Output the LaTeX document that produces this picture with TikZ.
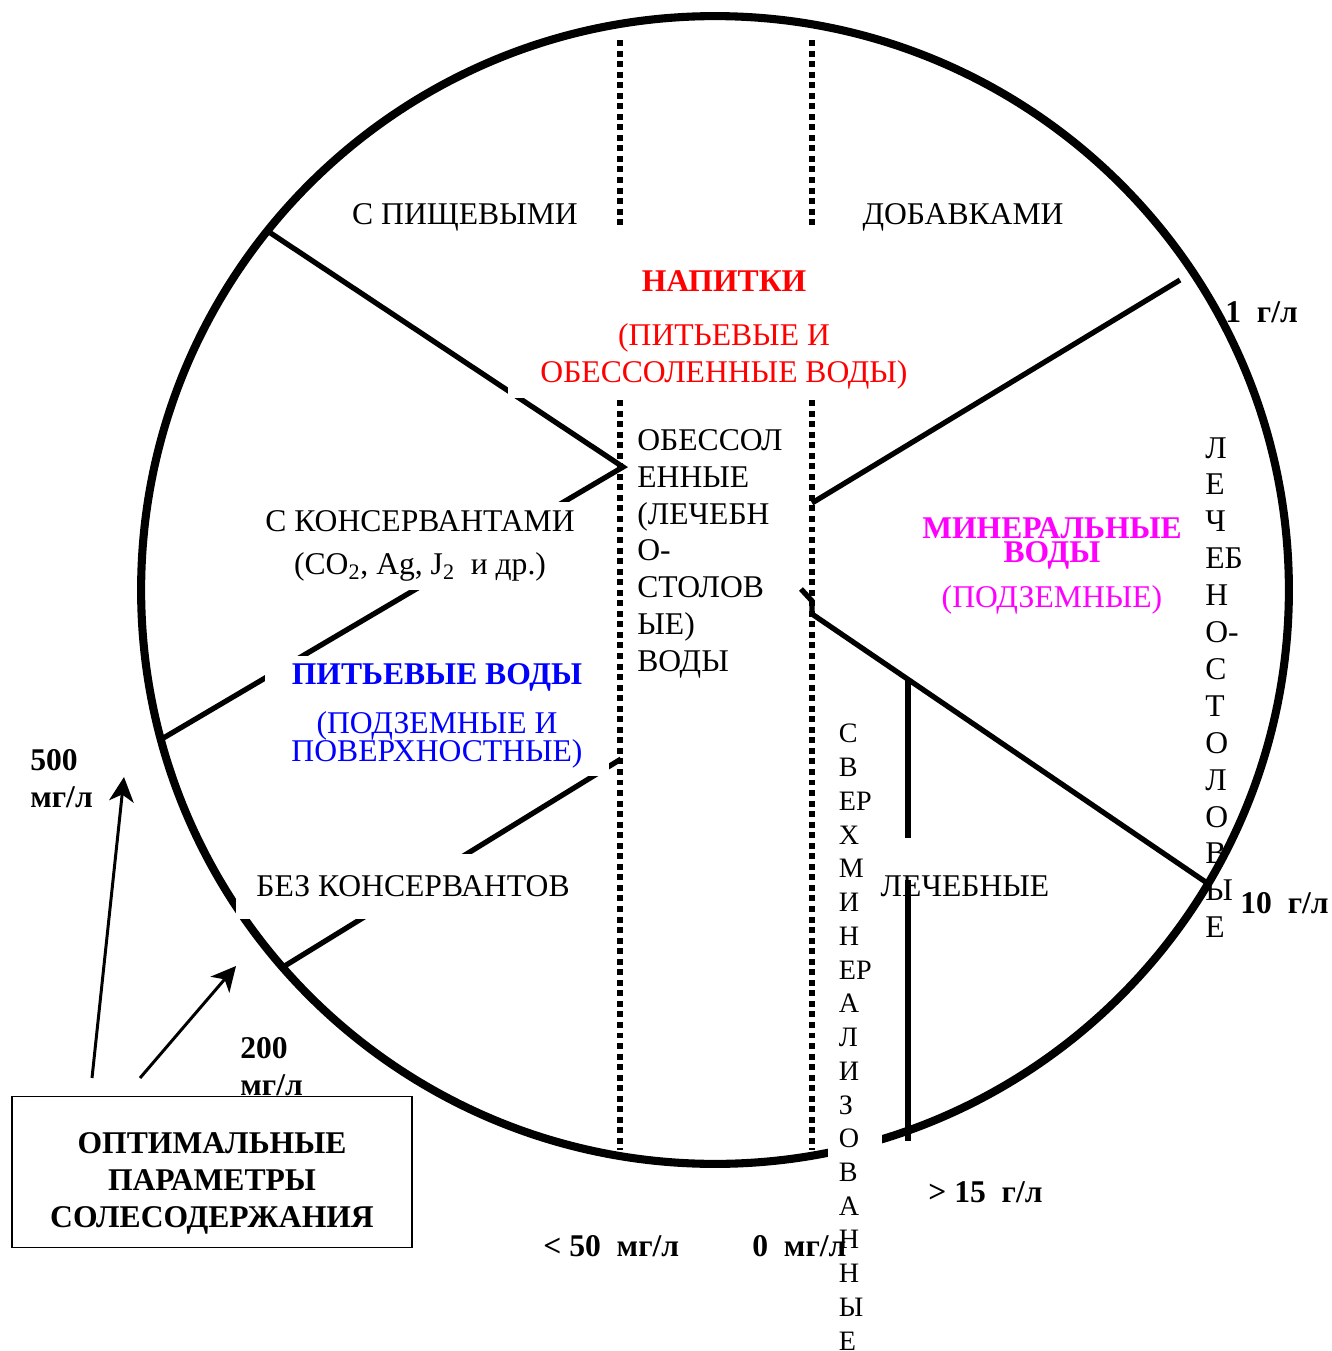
\documentclass[tikz,border=0pt]{standalone}
\usepackage{fontspec}
\setmainfont{Liberation Serif}
\usetikzlibrary{arrows.meta,positioning}
\definecolor{drinkred}{RGB}{255,0,0}
\definecolor{groundblue}{RGB}{0,0,255}
\definecolor{mineralpink}{RGB}{255,0,255}

\begin{document}
\begin{tikzpicture}[x=0.02cm, y=-0.02cm,
    rim/.style={line width=4.6pt},
    spoke/.style={line width=3pt, line join=miter},
    dotline/.style={line width=3.4pt, dash pattern=on 3.4pt off 2.6pt},
    lbl/.style={font=\fontsize{18}{21}\selectfont, inner sep=0pt, align=center},
    blank/.style={fill=white, inner sep=0pt},
    val/.style={font=\fontsize{18}{21}\selectfont\bfseries, inner sep=0pt, align=left},
    arrow/.style={-{Stealth[length=14pt, width=14pt, inset=4pt]}, line width=1.7pt}
]
    \useasboundingbox (0,0) rectangle (1331,1351);

    % circle
    \coordinate (ctr) at (715,590);
    \draw[rim] (ctr) circle [radius=11.48cm];

    % borders between the sectors
    \coordinate (rimA) at (266,230);
    \coordinate (vA) at (623,467);
    \coordinate (rimB) at (160,740);
    \coordinate (vB) at (621,759);
    \coordinate (rimC) at (283,967);
    \coordinate (endD) at (812,503);
    \coordinate (edgeD) at (1180,280);
    \coordinate (hookE) at (801,589);
    \coordinate (rimE) at (1210,885);
    \coordinate (stemTop) at (908,679);
    \coordinate (stemBot) at (908,1141);

    \draw[spoke] (rimA) -- (vA) -- (rimB);
    \draw[spoke] (vB) -- (rimC);
    \draw[spoke] (endD) -- (edgeD);
    \draw[spoke] (hookE) -- (812,601) -- (812,614) -- (rimE);
    \draw[spoke, line width=3.4pt] (stemTop) -- (908,838) (908,880) -- (stemBot);

    \draw[dotline] (620,40) -- (620,225) (620,400) -- (620,1150);
    \draw[dotline] (812,40) -- (812,225) (812,400) -- (812,1150);

    % sector texts
    \node[lbl] (foodA) at (465,217) {С ПИЩЕВЫМИ};
    \node[lbl] (foodB) at (963,217) {ДОБАВКАМИ};
    \node[lbl, blank, text=drinkred, minimum width=8.66cm, minimum height=2.72cm] (drinks) at (724,330)
        {{\bfseries НАПИТКИ}\\[9.7pt](ПИТЬЕВЫЕ И\\ОБЕССОЛЕННЫЕ ВОДЫ)};
    \node[lbl, blank, minimum width=6.72cm, minimum height=1.76cm] (preserv) at (420,546)
        {С КОНСЕРВАНТАМИ\\[3.4pt](CO\textsubscript{2}, Ag, J\textsubscript{2}\ \ и др.)};
    \node[lbl, blank, text=groundblue, minimum width=6.9cm, minimum height=2.4cm] (potable) at (437,716)
        {{\bfseries ПИТЬЕВЫЕ ВОДЫ}\\[6.8pt](ПОДЗЕМНЫЕ И\\[-5.1pt]ПОВЕРХНОСТНЫЕ)};
    \node[lbl, blank, minimum width=7.08cm, minimum height=1.3cm] (nopreserv) at (413,886) {БЕЗ КОНСЕРВАНТОВ};
    \node[lbl, text=mineralpink] (mineral) at (1052,566)
        {{\bfseries МИНЕРАЛЬНЫЕ}\\[-7.4pt]{\bfseries ВОДЫ}\\[5.1pt](ПОДЗЕМНЫЕ)};
    \node[lbl, align=left, anchor=north west] (desalt) at (637,429)
        {ОБЕССОЛ\\ЕННЫЕ\\(ЛЕЧЕБН\\О-\\СТОЛОВ\\ЫЕ)\\ВОДЫ};
    \node[lbl, align=left, anchor=north west] (tablewater) at (1205,437)
        {Л\\Е\\Ч\\ЕБ\\Н\\О-\\С\\Т\\О\\Л\\О\\В\\Ы\\Е};
    \node[lbl, blank, align=left, font=\fontsize{16}{19.2}\selectfont, minimum width=1.08cm, anchor=north west] (supermin) at (828,724)
        {С\\В\\ЕР\\Х\\М\\И\\Н\\ЕР\\А\\Л\\И\\З\\О\\В\\А\\Н\\Н\\Ы\\Е};
    \node[lbl] (curative) at (965,886) {ЛЕЧЕБНЫЕ};

    % salt content values
    \node[val, anchor=west] (g1) at (1225,312) {1\ \ г/л};
    \node[val, anchor=west] (g10) at (1240,903) {10\ \ г/л};
    \node[val, anchor=west] (g15) at (928,1192) {> 15\ \ г/л};
    \node[val, anchor=west] (mg50) at (543,1246) {< 50\ \ мг/л};
    \node[val, anchor=west] (mg0) at (752,1246) {0\ \ мг/л};
    \node[val, anchor=north west] (mg500) at (30,749) {500\\мг/л};
    \node[val, anchor=north west] (mg200) at (240,1037) {200\\мг/л};

    \node[draw, line width=1.1pt, fill=white, minimum width=8cm, minimum height=3.02cm, inner sep=0pt,
          font=\fontsize{18}{21}\selectfont\bfseries] (optimum) at (212,1172)
        {\raisebox{-6.5pt}[\height][\depth]{\begin{tabular}{@{}c@{}}ОПТИМАЛЬНЫЕ\\ПАРАМЕТРЫ\\СОЛЕСОДЕРЖАНИЯ\end{tabular}}};

    \coordinate (tail500) at (92,1078);
    \coordinate (tip500) at (124,777);
    \coordinate (tail200) at (140,1078);
    \coordinate (tip200) at (236,966);
    \draw[arrow] (tail500) -- (tip500);
    \draw[arrow] (tail200) -- (tip200);
\end{tikzpicture}
\end{document}
